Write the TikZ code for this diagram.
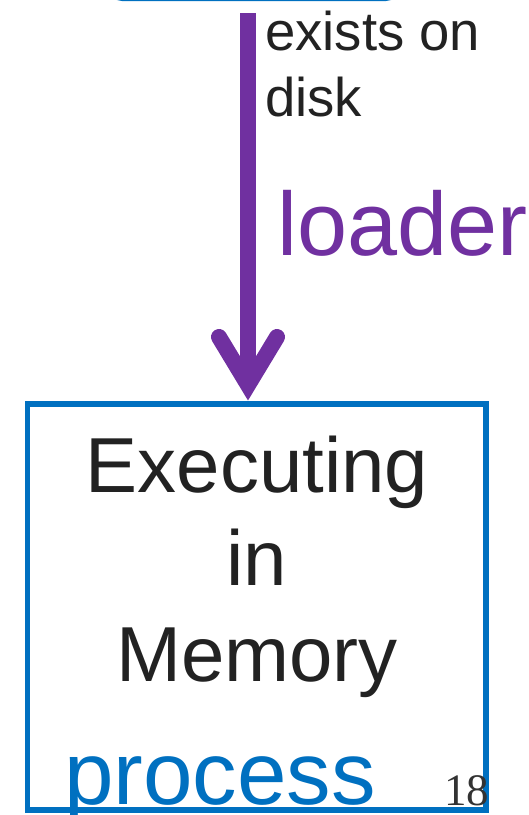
\documentclass[tikz,border=0pt]{standalone}
\usepackage{fontspec}
\setmainfont{Liberation Sans}
\newfontfamily\numfont{Liberation Serif}
\definecolor{pptblue}{HTML}{0070C0}
\definecolor{pptpurple}{HTML}{7030A0}
\definecolor{txt}{HTML}{222222}
\definecolor{numgray}{HTML}{333333}
\tikzset{
  boxstyle/.style={draw=pptblue, line width=5.5pt, inner sep=0pt, minimum width=458.5pt, minimum height=406pt},
  topbox/.style={draw=pptblue, line width=4pt, rounded corners=12pt, inner sep=0pt, minimum width=288pt, minimum height=60pt},
  shaftstyle/.style={draw=pptpurple, line width=16pt},
  barbstyle/.style={draw=pptpurple, line width=16pt, line cap=round, line join=miter},
  lbl/.style={inner sep=0pt, anchor=base west, text=txt},
  bigtxt/.style={inner sep=0pt, anchor=base, text=txt, font=\fontsize{78}{96}\selectfont},
}
\begin{document}
\begin{tikzpicture}[x=1pt, y=-1pt]
\useasboundingbox (0,0) rectangle (529,815);
% top box (only its bottom edge visible)
\node[topbox] (prog) at (254,-31) {};
% memory box
\node[boxstyle] (mem) at (256.75,607) {};
% arrow
\coordinate (ax) at (248,13);
\coordinate (tip) at (248,385);
\coordinate (armL) at (219,337);
\coordinate (armR) at (277,337);
\draw[shaftstyle] (ax) -- (tip);
\draw[barbstyle] (armL) -- (tip) -- (armR);
% labels
\node[lbl, font=\fontsize{54.5}{66}\selectfont] (ex1) at (265,50) {exists on};
\node[lbl, font=\fontsize{54.5}{66}\selectfont] (ex2) at (265,116.7) {disk};
\node[lbl, text=pptpurple, font=\fontsize{90}{100}\selectfont] (loader) at (277,255) {loader};
% box text
\node[bigtxt] (t1) at (257,492) {Executing};
\node[bigtxt] (t2) at (257,585) {in};
\node[bigtxt] (t3) at (257,681) {Memory};
\node[lbl, text=pptblue, font=\fontsize{89}{100}\selectfont] (proc) at (64,804) {process};
\node[lbl, text=numgray, font=\numfont\fontsize{45}{50}\selectfont] (pg) at (444,805) {18};
\end{tikzpicture}
\end{document}
